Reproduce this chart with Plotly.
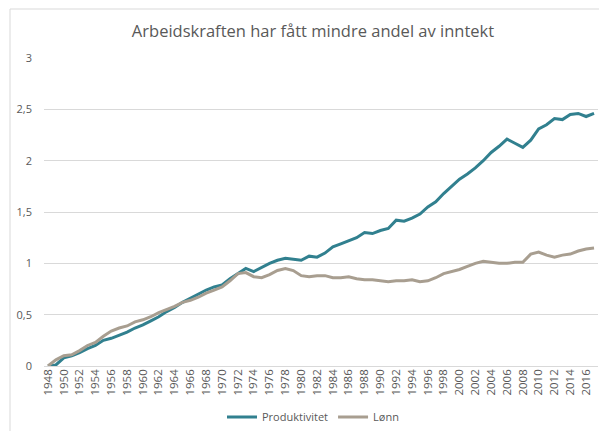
import plotly.graph_objects as go

years = [str(y) for y in range(1948, 2018)]
produktivitet = [0.00, 0.01, 0.08, 0.10, 0.13, 0.17, 0.20, 0.25, 0.27, 0.30,
                 0.33, 0.37, 0.40, 0.44, 0.48, 0.53, 0.57, 0.62, 0.66, 0.70,
                 0.74, 0.77, 0.79, 0.85, 0.90, 0.95, 0.92, 0.96, 1.00, 1.03,
                 1.05, 1.04, 1.03, 1.07, 1.06, 1.10, 1.16, 1.19, 1.22, 1.25,
                 1.30, 1.29, 1.32, 1.34, 1.42, 1.41, 1.44, 1.48, 1.55, 1.60,
                 1.68, 1.75, 1.82, 1.87, 1.93, 2.00, 2.08, 2.14, 2.21, 2.17,
                 2.13, 2.20, 2.31, 2.35, 2.41, 2.40, 2.45, 2.46, 2.43, 2.46]
lonn = [0.00, 0.06, 0.10, 0.11, 0.15, 0.20, 0.23, 0.29, 0.34, 0.37,
        0.39, 0.43, 0.45, 0.48, 0.52, 0.55, 0.58, 0.62, 0.64, 0.67,
        0.71, 0.74, 0.77, 0.83, 0.90, 0.91, 0.87, 0.86, 0.89, 0.93,
        0.95, 0.93, 0.88, 0.87, 0.88, 0.88, 0.86, 0.86, 0.87, 0.85,
        0.84, 0.84, 0.83, 0.82, 0.83, 0.83, 0.84, 0.82, 0.83, 0.86,
        0.90, 0.92, 0.94, 0.97, 1.00, 1.02, 1.01, 1.00, 1.00, 1.01,
        1.01, 1.09, 1.11, 1.08, 1.06, 1.08, 1.09, 1.12, 1.14, 1.15]
tick_labels = [str(y) for y in range(1948, 2018, 2)]
y_ticks = [0, 0.5, 1, 1.5, 2, 2.5, 3]

W, H = 607, 431
L, R, T, B = 36, 17, 50, 73
pw, ph = W - L - R, H - T - B

fig = go.Figure()
fig.add_trace(go.Scatter(x=years, y=produktivitet, mode="lines", name="Produktivitet",
                         line=dict(color="#31808F", width=3)))
fig.add_trace(go.Scatter(x=years, y=lonn, mode="lines", name="Lønn",
                         line=dict(color="#A89E90", width=3)))

fig.update_layout(
    width=W, height=H,
    margin=dict(l=L, r=R, t=T, b=B, autoexpand=False),
    paper_bgcolor="white", plot_bgcolor="white",
    separators=", ",
    font=dict(family="Open Sans", color="#595959", size=11),
    title=dict(text="Arbeidskraften har fått mindre andel av inntekt",
               x=305 / W, xanchor="center", y=1 - 23 / H, yanchor="middle",
               font=dict(size=16.5, color="#595959")),
    showlegend=True,
    legend=dict(orientation="h", x=(305 - L) / pw, xanchor="center", y=-51 / ph, yanchor="middle",
                font=dict(size=11, color="#595959"), tracegroupgap=0),
    xaxis=dict(type="category", range=[-0.5, len(years) - 0.5], automargin=False,
               tickmode="array", tickvals=tick_labels, ticktext=tick_labels,
               tickangle=-90, showgrid=False, showline=False, ticks="",
               tickfont=dict(size=11.5, color="#595959"), fixedrange=True),
    yaxis=dict(range=[0, 3], tickvals=y_ticks, showgrid=True, gridcolor="#D9D9D9",
               gridwidth=1, zeroline=True, zerolinecolor="#D9D9D9", zerolinewidth=1,
               showline=False, ticks="", automargin=False,
               tickfont=dict(size=11, color="#595959"), ticklabelstandoff=11),
    shapes=[dict(type="rect", xref="paper", yref="paper",
                 x0=(2 - L) / pw, x1=(603 - L) / pw,
                 y0=-(428 - (T + ph)) / ph, y1=1 + (T - 1) / ph,
                 line=dict(color="#D9D9D9", width=1), layer="below")],
)

fig.write_html("out.html")
